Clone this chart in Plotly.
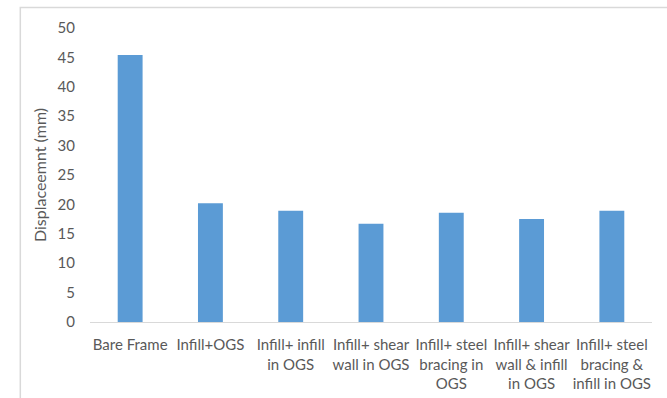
import plotly.graph_objects as go

categories = [
    "Bare Frame",
    "Infill+OGS",
    "Infill+ infill<br>in OGS",
    "Infill+ shear<br>wall in OGS",
    "Infill+ steel<br>bracing in<br>OGS",
    "Infill+ shear<br>wall & infill<br>in OGS",
    "Infill+ steel<br>bracing &<br>infill in OGS",
]
displacement = [45.4, 20.2, 18.9, 16.7, 18.6, 17.5, 18.9]
y_ticks = [0, 5, 10, 15, 20, 25, 30, 35, 40, 45, 50]

fig = go.Figure()
fig.add_trace(go.Bar(
    x=categories,
    y=displacement,
    marker=dict(color="#5B9BD5", line=dict(width=0)),
    width=0.31,
))

font_family = "Lato, 'Open Sans', sans-serif"
fig.update_layout(
    width=667,
    height=398,
    margin=dict(l=90, r=15, t=28, b=76),
    paper_bgcolor="white",
    plot_bgcolor="white",
    showlegend=False,
    font=dict(family=font_family, size=15, color="#595959"),
    xaxis=dict(
        automargin=False,
        showgrid=False,
        showline=True,
        linecolor="#D9D9D9",
        linewidth=1,
        ticks="",
        tickfont=dict(size=15, color="#595959"),
        tickangle=0,
        ticklabelstandoff=9,
    ),
    yaxis=dict(
        automargin=False,
        range=[0, 50],
        tickvals=y_ticks,
        showgrid=False,
        zeroline=False,
        showline=False,
        ticks="",
        ticklabelstandoff=14,
        tickfont=dict(size=15, color="#595959"),
        title=dict(text="Displaceemnt (mm)", font=dict(size=16, color="#595959"), standoff=6),
    ),
    shapes=[dict(
        type="rect", xref="paper", yref="paper",
        x0=-0.124, x1=1.03, y0=-0.35, y1=1.07,
        line=dict(color="#D9D9D9", width=1.5),
        fillcolor="rgba(0,0,0,0)",
        layer="below",
    )],
)

fig.write_html("out.html")
